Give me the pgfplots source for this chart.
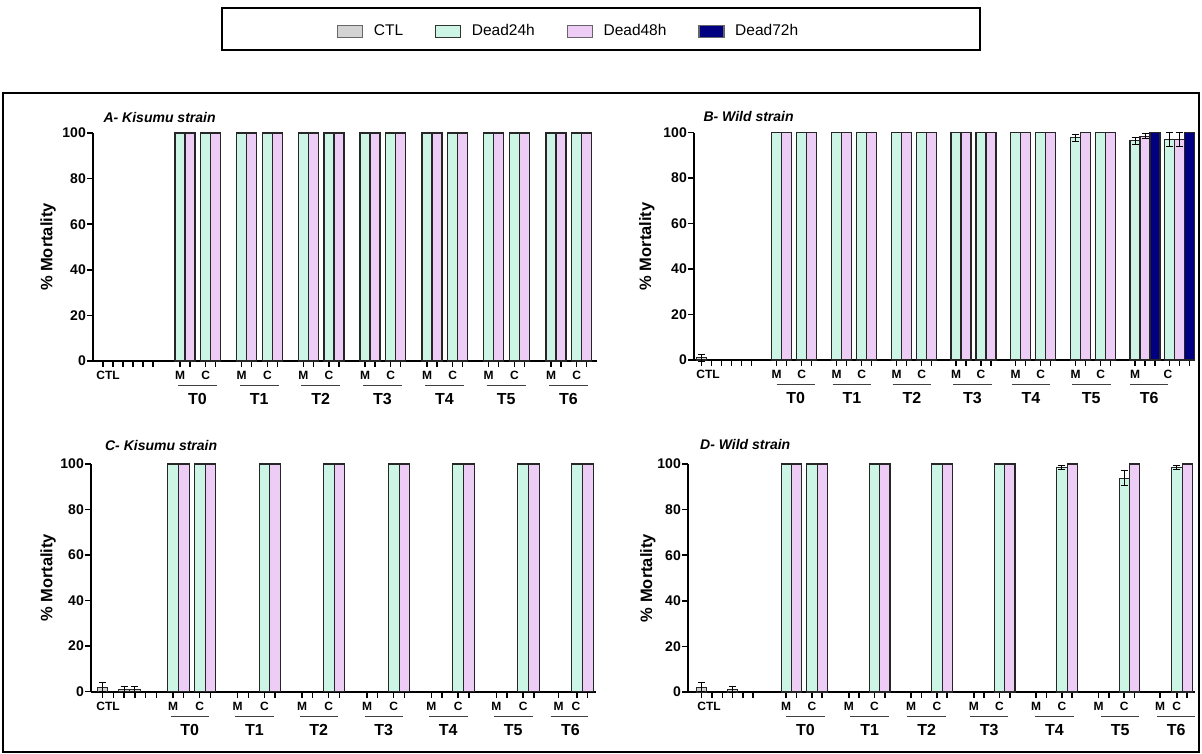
\documentclass[border=0pt]{standalone}
\usepackage{fontspec}
\setmainfont{Liberation Sans}
\usepackage{pgfplots}
\pgfplotsset{compat=1.18}
\definecolor{c24}{HTML}{CCF5E6}
\definecolor{c48}{HTML}{EDCCF5}
\definecolor{c72}{HTML}{000080}
\definecolor{cctl}{HTML}{D3D3D3}

\newcommand{\mc}[2]{\node[font=\fontsize{12}{12}\selectfont\bfseries, anchor=base, yshift=-18.5pt] at (axis cs:#1,0) {#2};}
\newcommand{\tg}[4]{\draw[yshift=-24.5pt, line width=1pt, black!75] (axis cs:#1,0) -- (axis cs:#2,0); \node[font=\fontsize{16}{16}\selectfont\bfseries, anchor=base, yshift=-44pt] at (axis cs:#3,0) {#4};}
\newcommand{\ttl}[3]{\node[anchor=base west, font=\fontsize{14}{14}\selectfont\bfseries\itshape] at (axis description cs:#1,#2) {#3};}

\pgfplotsset{
  panel/.style={
    scale only axis, anchor=south west,
    axis lines=left, axis line style={-, line width=1.9pt},
    ymin=0, ymax=100, ytick={0,20,40,60,80,100}, xmin=0,
    tick align=outside, major tick length=6pt, tick style={line width=1.5pt, black},
    xticklabels={}, clip=false, ybar, bar shift=0pt,
    /pgf/number format/assume math mode=true,
    yticklabel style={font=\fontsize{14}{14}\selectfont\bfseries, inner xsep=1pt},
    ylabel={\% Mortality},
    every axis y label/.style={rotate=90, anchor=center, font=\fontsize{16.5}{16.5}\selectfont\bfseries},
  },
  b24/.style={fill=c24, draw=black!85, line width=1.1pt},
  b48/.style={fill=c48, draw=black!85, line width=1.1pt},
  b72/.style={fill=c72, draw=black!85, line width=1.1pt},
  bctl/.style={fill=cctl, draw=black!85, line width=1.1pt},
  err/.style={error bars/.cd, y dir=both, y explicit,
    error bar style={line width=1pt, black},
    error mark options={rotate=90, line width=1pt, mark size=3.5pt, black}},
  mylegend/.style={legend image code/.code={\draw[##1, line width=1.1pt] (0pt,-6pt) rectangle (25pt,6pt); \path (34pt,0pt);}},
}

\begin{document}
\begin{tikzpicture}[x=1pt,y=1pt]
\useasboundingbox (0,0) rectangle (1202,754);

% ---------------- Panel A ----------------
\begin{axis}[panel, at={(93pt,393pt)}, width=504pt, height=228pt, xmax=504, bar width=10,
  ylabel style={at={(axis description cs:-0.089,0.5)}},
  xtick={10,20,30,40,50,60,87,97,112.7,122.7,148.7,158.7,174.4,184.4,210.3,220.3,236,246,272,282,297.7,307.7,334,344,359.7,369.7,395.7,405.7,421.4,431.4,458,468,483.7,493.7},
  legend style={at={(axis description cs:0.484,1.447)}, anchor=west, draw=none, fill=none, inner sep=0pt,
    font=\fontsize{15.5}{15.5}\selectfont, legend columns=4,
    /tikz/every even column/.append style={column sep=30pt}},
]
\addlegendimage{mylegend, fill=cctl, draw=black!60}
\addlegendentry{CTL}
\addlegendimage{mylegend, fill=c24, draw=black!80}
\addlegendentry{Dead24h}
\addlegendimage{mylegend, fill=c48, draw=black!60}
\addlegendentry{Dead48h}
\addlegendimage{mylegend, fill=c72, draw=black!60}
\addlegendentry{Dead72h}
\addplot[b24, forget plot] coordinates {(87,100) (112.7,100) (148.7,100) (174.4,100) (210.3,100) (236,100) (272,100) (297.7,100) (334,100) (359.7,100) (395.7,100) (421.4,100) (458,100) (483.7,100)};
\addplot[b48, forget plot] coordinates {(97,100) (122.7,100) (158.7,100) (184.4,100) (220.3,100) (246,100) (282,100) (307.7,100) (344,100) (369.7,100) (405.7,100) (431.4,100) (468,100) (493.7,100)};
\ttl{0.014}{1.044}{A- Kisumu strain}
\mc{15}{CTL}
\mc{87}{M}\mc{112.7}{C}\mc{148.7}{M}\mc{174.4}{C}\mc{210.3}{M}\mc{236}{C}\mc{272}{M}\mc{297.7}{C}
\mc{334}{M}\mc{359.7}{C}\mc{395.7}{M}\mc{421.4}{C}\mc{458}{M}\mc{483.7}{C}
\tg{85}{124}{104.5}{T0}\tg{146.7}{185.7}{166.2}{T1}\tg{208.3}{247.3}{227.8}{T2}\tg{270}{309}{289.5}{T3}
\tg{332}{371}{351.5}{T4}\tg{393.7}{432.7}{413.2}{T5}\tg{456}{495}{475.5}{T6}
\end{axis}

% ---------------- Panel B ----------------
\begin{axis}[panel, at={(694pt,394pt)}, width=501pt, height=227.3pt, xmax=501, bar width=10,
  ylabel style={at={(axis description cs:-0.094,0.5)}},
  xtick={7.5,17.5,27.5,37.5,47.5,57.5,82.7,92.7,107.7,117.7,142.7,152.7,167.7,177.7,202.7,212.7,227.7,237.7,262,272,287,297,321.7,331.7,346.7,356.7,381.7,391.7,406.7,416.7,441,451,461,475.5,485.5,495.5},
]
\addplot[bctl, err] coordinates {(7.5,1) +- (0,1.5)};
\addplot[b24] coordinates {(82.7,100) (107.7,100) (142.7,100) (167.7,100) (202.7,100) (227.7,100) (262,100) (287,100) (321.7,100) (346.7,100) (406.7,100)};
\addplot[b24, err] coordinates {(381.7,97.8) +- (0,1.6) (441,96.5) +- (0,1.6) (475.5,97) +- (0,3.2)};
\addplot[b48] coordinates {(92.7,100) (117.7,100) (152.7,100) (177.7,100) (212.7,100) (237.7,100) (272,100) (297,100) (331.7,100) (356.7,100) (391.7,100) (416.7,100)};
\addplot[b48, err] coordinates {(451,98.5) +- (0,1.1) (485.5,97) +- (0,3.2)};
\addplot[b72] coordinates {(461,100) (495.5,100)};
\ttl{0.012}{1.048}{B- Wild strain}
\mc{14}{CTL}
\mc{82.7}{M}\mc{107.7}{C}\mc{142.7}{M}\mc{167.7}{C}\mc{202.7}{M}\mc{227.7}{C}\mc{262}{M}\mc{287}{C}
\mc{321.7}{M}\mc{346.7}{C}\mc{381.7}{M}\mc{406.7}{C}\mc{441}{M}\mc{474}{C}
\tg{82.7}{120.7}{101.7}{T0}\tg{138.7}{177.2}{158}{T1}\tg{198.7}{237.2}{218}{T2}\tg{259.3}{297.7}{278.5}{T3}
\tg{317.7}{356}{336.9}{T4}\tg{377.7}{416.7}{397.2}{T5}\tg{436}{474.3}{455.2}{T6}
\end{axis}

% ---------------- Panel C ----------------
\begin{axis}[panel, at={(91pt,62.3pt)}, width=505pt, height=227.7pt, xmax=505, bar width=10.7,
  ylabel style={at={(axis description cs:-0.085,0.5)}},
  xtick={11.5,22.3,33.1,43.9,54.7,65.5,82,92.7,108.7,119.4,146.7,157.4,173.4,184.1,211,221.7,237.7,248.4,276,286.7,302.7,313.4,340.4,351.1,367.1,377.8,405.4,416.1,432.1,442.8,467.7,486,496.7},
]
\addplot[bctl, err] coordinates {(11.5,2) +- (0,2) (33.1,1) +- (0,1.3) (43.9,1) +- (0,1.3)};
\addplot[b24] coordinates {(82,100) (108.7,100) (173.4,100) (237.7,100) (302.7,100) (367.1,100) (432.1,100) (486,100)};
\addplot[b48] coordinates {(92.7,100) (119.4,100) (184.1,100) (248.4,100) (313.4,100) (377.8,100) (442.8,100) (496.7,100)};
\ttl{0.021}{1.061}{C- Kisumu strain}
\mc{17}{CTL}
\mc{82}{M}\mc{108.7}{C}\mc{146.7}{M}\mc{173.4}{C}\mc{211}{M}\mc{237.7}{C}\mc{276}{M}\mc{302.7}{C}
\mc{340.4}{M}\mc{367.1}{C}\mc{405.4}{M}\mc{432.1}{C}\mc{467.7}{M}\mc{485}{C}
\tg{79.7}{118.2}{98.7}{T0}\tg{144.4}{182.9}{163.4}{T1}\tg{208.7}{247.2}{227.7}{T2}\tg{273.7}{312.2}{292.7}{T3}
\tg{338.1}{376.6}{357.1}{T4}\tg{403.1}{441.6}{422.1}{T5}\tg{459.7}{497.3}{479.5}{T6}
\end{axis}

% ---------------- Panel D ----------------
\begin{axis}[panel, at={(688pt,62pt)}, width=507pt, height=228pt, xmax=507, bar width=10.3,
  ylabel style={at={(axis description cs:-0.079,0.5)}},
  xtick={13.7,24,34.3,44.6,54.9,65.2,98.2,108.5,123.9,134.2,160.8,171.1,186.5,196.8,223.2,233.5,248.9,259.2,285.8,296.1,311.5,321.8,348.2,358.5,373.9,384.2,410.5,420.8,436.2,446.5,472,488.9,499.2},
]
\addplot[bctl, err] coordinates {(13.7,2) +- (0,2) (44.6,1) +- (0,1.3)};
\addplot[b24] coordinates {(98.2,100) (123.9,100) (186.5,100) (248.9,100) (311.5,100)};
\addplot[b24, err] coordinates {(373.9,98.4) +- (0,1) (436.2,93.7) +- (0,3.3) (488.9,98.4) +- (0,1)};
\addplot[b48] coordinates {(108.5,100) (134.2,100) (196.8,100) (259.2,100) (321.8,100) (384.2,100) (446.5,100) (499.2,100)};
\ttl{0.017}{1.064}{D- Wild strain}
\mc{21}{CTL}
\mc{98.2}{M}\mc{123.9}{C}\mc{160.8}{M}\mc{186.5}{C}\mc{223.2}{M}\mc{248.9}{C}\mc{285.8}{M}\mc{311.5}{C}
\mc{348.2}{M}\mc{373.9}{C}\mc{410.5}{M}\mc{436.2}{C}\mc{472}{M}\mc{488.7}{C}
\tg{98}{137}{117.5}{T0}\tg{162}{201.3}{181.7}{T1}\tg{219.3}{258}{238.7}{T2}\tg{282}{320.3}{301.2}{T3}
\tg{347}{386}{366.5}{T4}\tg{413}{451.3}{432.2}{T5}\tg{469.3}{507}{488.2}{T6}
\end{axis}

\draw[line width=1.3pt] (222,704) rectangle (980,746);
\draw[line width=1.3pt] (3,2) rectangle (1199,661);
\end{tikzpicture}
\end{document}
